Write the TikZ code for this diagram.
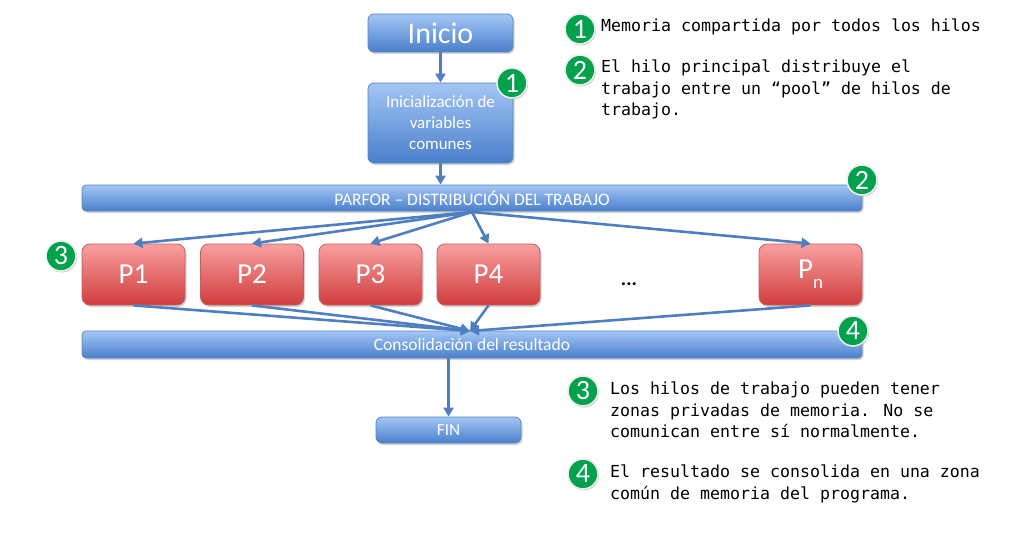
\documentclass[tikz,border=0pt]{standalone}
\usepackage{fontspec}
\setmainfont{Carlito}
\newfontfamily\codefont{DejaVu Sans Mono}
\usetikzlibrary{arrows.meta,shadows}
\definecolor{bluetop}{HTML}{A3C6F5}
\definecolor{bluebot}{HTML}{4A7FCC}
\definecolor{blueedge}{HTML}{5A86C0}
\definecolor{redtop}{HTML}{F8A0A0}
\definecolor{redbot}{HTML}{D03C3C}
\definecolor{rededge}{HTML}{C06060}
\definecolor{arrowblue}{HTML}{4F7FC0}
\definecolor{badgegreen}{HTML}{00A24C}
\tikzset{
  bluebox/.style={draw=blueedge, line width=0.8pt, rounded corners=6pt, top color=bluetop, bottom color=bluebot, text=white, inner sep=0pt, align=center, drop shadow={shadow xshift=1.5pt, shadow yshift=-2pt, opacity=0.35}},
  bluebar/.style={bluebox, rounded corners=4pt},
  redbox/.style={draw=rededge, line width=0.8pt, rounded corners=8pt, top color=redtop, bottom color=redbot, text=white, inner sep=0pt, minimum width=103pt, minimum height=61pt, font=\fontsize{29}{30}\selectfont, drop shadow={shadow xshift=1.5pt, shadow yshift=-2pt, opacity=0.35}},
  badge/.style={circle, fill=badgegreen, draw=white!85!gray, line width=1.6pt, minimum size=30pt, inner sep=0pt, text=white, font=\fontsize{28}{28}\selectfont, drop shadow={shadow xshift=1pt, shadow yshift=-1.5pt, opacity=0.4}},
  flow/.style={draw=arrowblue, line width=2.6pt, -{Triangle[length=9pt,width=10pt]}},
  note/.style={anchor=north west, inner sep=0pt, align=left, font=\codefont\fontsize{16.6}{21.5}\selectfont},
}
\begin{document}
\begin{tikzpicture}[x=1pt,y=-1pt]
\useasboundingbox (0,0) rectangle (1023,535);
% boxes
\node[bluebox, minimum width=145pt, minimum height=38pt, font=\fontsize{30}{31}\selectfont] (inicio) at (440.5,33) {Inicio};
\node[bluebox, minimum width=145pt, minimum height=80pt, font=\fontsize{17}{21}\selectfont] (init) at (440.5,123) {Inicialización de\\variables\\comunes};
\node[bluebar, minimum width=780pt, minimum height=26pt, font=\fontsize{17.5}{18}\selectfont] (parfor) at (472,198) {PARFOR – DISTRIBUCIÓN DEL TRABAJO};
\node[redbox] (p1) at (133.5,274.5) {P1};
\node[redbox] (p2) at (252,274.5) {P2};
\node[redbox] (p3) at (370.5,274.5) {P3};
\node[redbox] (p4) at (488.5,274.5) {P4};
\node[redbox] (pn) at (810.5,274.5) {P\raisebox{-0.35em}{\fontsize{19}{20}\selectfont n}};
\node[font=\fontsize{20}{20}\selectfont\bfseries] (dots) at (629,284) {...};
\node[bluebar, minimum width=780pt, minimum height=27pt, font=\fontsize{17.5}{18}\selectfont] (cons) at (472,344.5) {Consolidación del resultado};
\node[bluebox, minimum width=145pt, minimum height=26pt, font=\fontsize{17}{18}\selectfont] (fin) at (448.5,430) {FIN};
% anchors
\coordinate (split) at (472,212);
\coordinate (merge) at (470,331);
% connectors
\draw[flow] (inicio.south) -- (init.north);
\draw[flow] (init.south) -- (parfor.north -| init.south);
\draw[flow] (split) -- (p1.north);
\draw[flow] (split) -- (p2.north);
\draw[flow] (split) -- (p3.north);
\draw[flow] (split) -- (p4.north);
\draw[flow] (split) -- (pn.north);
\draw[flow] (p1.south) -- (merge);
\draw[flow] (p2.south) -- (merge);
\draw[flow] (p3.south) -- (merge);
\draw[flow] (p4.south) -- (merge);
\draw[flow] (pn.south) -- (merge);
\draw[flow] (cons.south -| fin.north) -- (fin.north);
% badges on diagram
\node[badge] (b1) at (512,83) {1};
\node[badge] (b2) at (862,180) {2};
\node[badge] (b3) at (61,256) {3};
\node[badge] (b4) at (853,331) {4};
% notes
\node[badge] (n1) at (580,29) {1};
\node[note] (t1) at (601,19) {Memoria compartida por todos los hilos};
\node[badge] (n2) at (580,70) {2};
\node[note] (t2) at (601,60) {El hilo principal distribuye el\\trabajo entre un “pool” de hilos de\\trabajo.};
\node[badge] (n3) at (583,391) {3};
\node[note] (t3) at (610,382) {Los hilos de trabajo pueden tener\\zonas privadas de memoria. No se\\comunican entre sí normalmente.};
\node[badge] (n4) at (583,474) {4};
\node[note] (t4) at (610,465) {El resultado se consolida en una zona\\común de memoria del programa.};
\end{tikzpicture}
\end{document}
